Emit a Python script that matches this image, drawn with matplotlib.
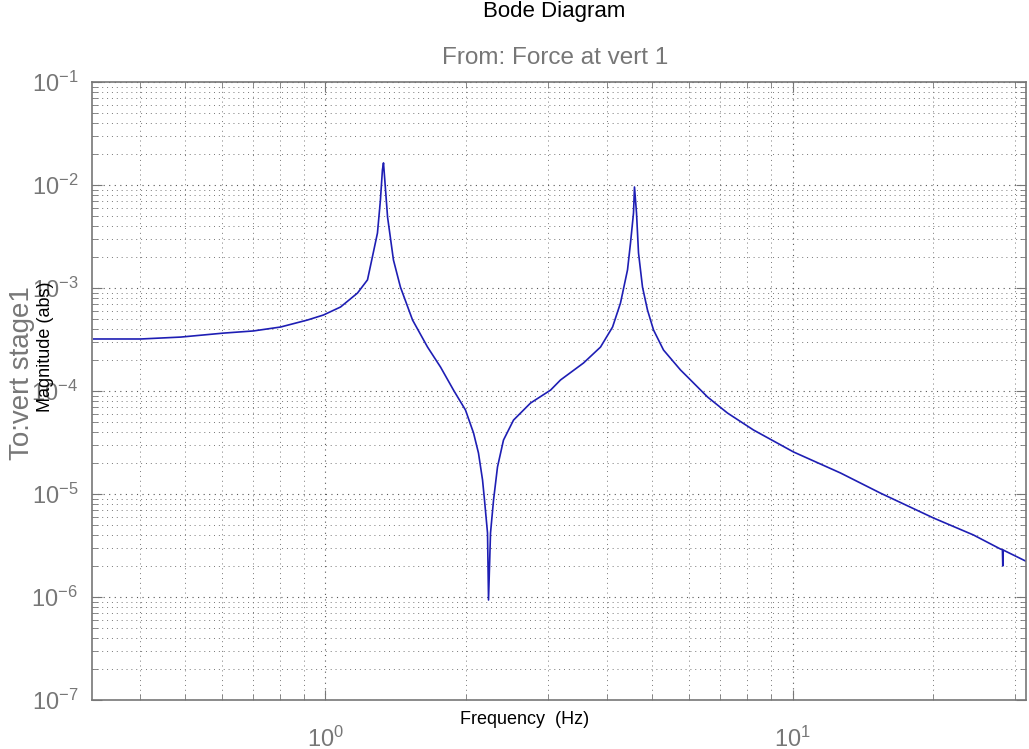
import numpy as np
import matplotlib
matplotlib.use('Agg')
import matplotlib.pyplot as plt
from matplotlib.ticker import LogLocator, NullFormatter

plt.rcParams['font.family'] = ['Liberation Sans', 'DejaVu Sans']
plt.rcParams['mathtext.fontset'] = 'custom'
plt.rcParams['mathtext.rm'] = 'Liberation Sans'
plt.rcParams['mathtext.it'] = 'Liberation Sans'

# frequency (Hz) and magnitude (abs)
freq = [0.319, 0.402, 0.490, 0.605, 0.701, 0.801, 0.915, 0.990, 1.077, 1.171,
        1.230, 1.260, 1.292, 1.311, 1.324, 1.331, 1.338, 1.358, 1.398, 1.447,
        1.536, 1.654, 1.763, 1.880, 1.994, 2.075, 2.126, 2.169, 2.190, 2.223,
        2.234, 2.256, 2.290, 2.335, 2.405, 2.527, 2.748, 3.033, 3.186, 3.568,
        3.880, 4.118, 4.282, 4.433, 4.499, 4.566, 4.588, 4.634, 4.680, 4.773,
        4.892, 5.040, 5.294, 5.757, 5.959, 6.577, 7.258, 8.252, 10.05, 12.67,
        15.43, 20.04, 24.41, 27.89, 28.15, 28.20, 28.25, 31.85]
mag = [3.20e-4, 3.20e-4, 3.34e-4, 3.65e-4, 3.83e-4, 4.18e-4, 4.89e-4, 5.47e-4, 6.54e-4, 8.94e-4,
       1.20e-3, 2.00e-3, 3.42e-3, 7.15e-3, 1.40e-2, 1.64e-2, 1.20e-2, 4.89e-3, 1.87e-3, 1.02e-3,
       4.89e-4, 2.67e-4, 1.71e-4, 1.02e-4, 6.54e-5, 3.91e-5, 2.50e-5, 1.37e-5, 8.75e-6, 4.18e-6,
       9.35e-7, 4.18e-6, 8.75e-6, 1.83e-5, 3.34e-5, 5.22e-5, 7.64e-5, 1.02e-4, 1.28e-4, 1.87e-4,
       2.67e-4, 4.18e-4, 7.15e-4, 1.50e-3, 2.74e-3, 5.35e-3, 9.57e-3, 5.35e-3, 2.19e-3, 1.02e-3,
       6.11e-4, 3.91e-4, 2.50e-4, 1.60e-4, 1.37e-4, 8.75e-5, 6.11e-5, 4.18e-5, 2.56e-5, 1.60e-5,
       1.02e-5, 5.85e-6, 4.00e-6, 2.92e-6, 2.88e-6, 2.00e-6, 2.86e-6, 2.19e-6]

gray = '#777777'

fig = plt.figure(figsize=(10.29, 7.49), dpi=100)
ax = fig.add_axes([0.0894, 0.0654, 0.9077, 0.8251])

ax.loglog(freq, mag, color='#1e1eb4', linewidth=1.2)

ax.set_xlim(10 ** -0.5, 10 ** 1.5)
ax.set_ylim(1e-7, 1e-1)

ax.yaxis.set_major_locator(LogLocator(base=10, numticks=10))
ax.yaxis.set_minor_locator(LogLocator(base=10, subs=np.arange(2, 10), numticks=20))
ax.yaxis.set_minor_formatter(NullFormatter())
ax.xaxis.set_minor_formatter(NullFormatter())

ax.grid(True, which='major', color='#555555', linestyle=(0, (1, 4)), linewidth=0.8)
ax.grid(True, which='minor', color='#777777', linestyle=(0, (1, 4)), linewidth=0.7)

for s in ax.spines.values():
    s.set_color(gray)
    s.set_linewidth(1.2)

ax.tick_params(which='both', direction='in', top=True, right=True, colors=gray)
ax.tick_params(which='major', length=7)
ax.tick_params(which='minor', length=4)
ax.tick_params(axis='y', labelsize=17, labelcolor=gray, pad=10)
ax.tick_params(axis='x', labelsize=17, labelcolor=gray, pad=19)

# title is partly cut off by the top edge, as in the original
fig.text(0.539, 0.977, 'Bode Diagram', ha='center', va='baseline', fontsize=16, color='black')
fig.text(0.539, 0.922, 'From: Force at vert 1', ha='center', va='center', fontsize=17.5, color=gray)
fig.text(0.021, 0.502, 'To:vert stage1', ha='center', va='center', rotation=90, fontsize=20, color=gray)
fig.text(0.044, 0.537, 'Magnitude (abs)', ha='center', va='center', rotation=90, fontsize=13, color='black')
fig.text(0.510, 0.039, 'Frequency  (Hz)', ha='center', va='center', fontsize=13, color='black')

plt.savefig('out.png', dpi=100)
